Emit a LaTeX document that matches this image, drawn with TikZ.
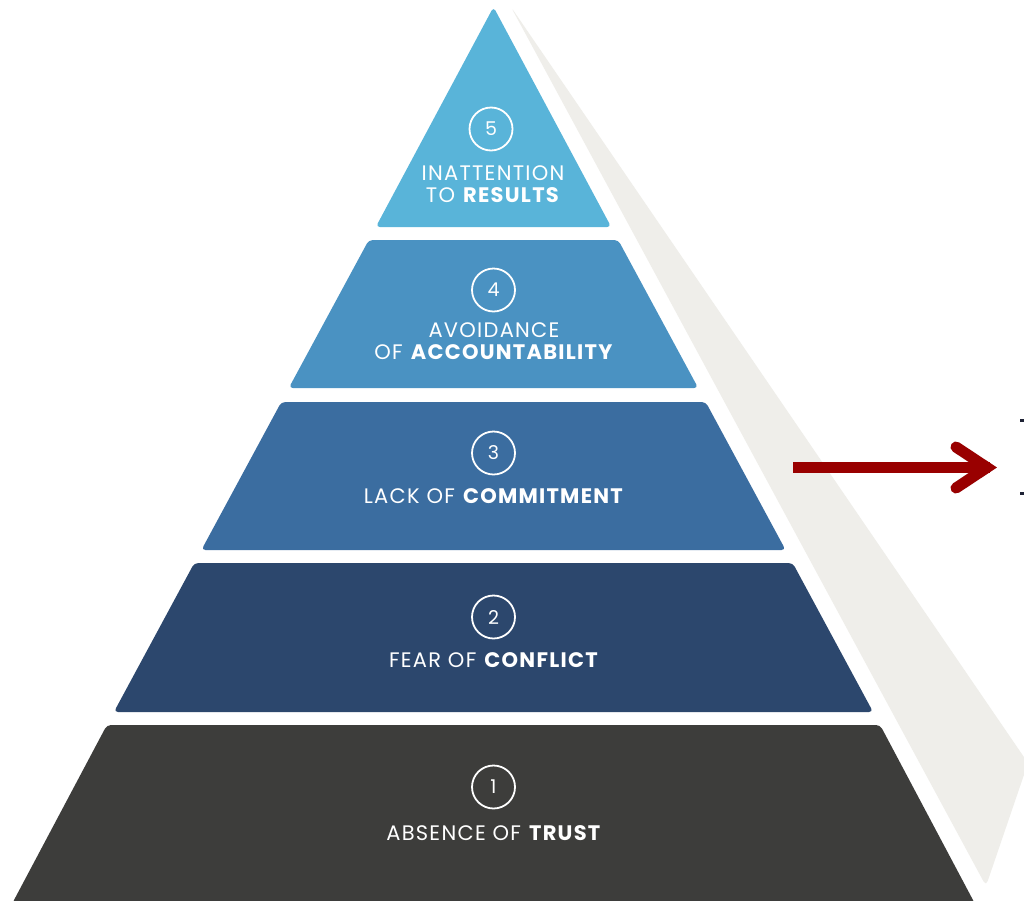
\documentclass[tikz,border=0pt]{standalone}
\usepackage{fontspec}
\setmainfont{Poppins}
\newfontfamily\labelfont{Poppins}[LetterSpace=6]
\definecolor{tfive}{HTML}{59B4D9}
\definecolor{tfour}{HTML}{4A92C2}
\definecolor{tthree}{HTML}{3B6DA0}
\definecolor{ttwo}{HTML}{2C476D}
\definecolor{tone}{HTML}{3D3D3B}
\definecolor{sidegray}{HTML}{EFEEEA}
\definecolor{arrowred}{HTML}{990000}
\definecolor{dotdark}{HTML}{1E2235}
\begin{document}
\begin{tikzpicture}[x=1pt,y=-1pt,
  tier/.style={rounded corners=4pt},
  numcirc/.style={circle, draw=white, line width=1.8pt, minimum size=43pt, inner sep=0pt, text=white, font=\fontsize{19}{19}\selectfont},
  tiertext/.style={text=white, align=center, inner sep=0pt, font=\labelfont\fontsize{21}{22}\selectfont},
  arrowline/.style={draw=arrowred, line width=11pt}
]
\useasboundingbox (0,0) rectangle (1024,900);
\fill[white] (0,0) rectangle (1024,900);
% side shadow
\fill[sidegray, rounded corners=5pt] (511,7) -- (1028,763) -- (986,886) -- cycle;
% tiers
\fill[tfive, tier] (493.5,7) -- (611.2,227) -- (375.8,227) -- cycle;
\fill[tfour, tier] (368.8,240) -- (618.2,240) -- (698.2,388) -- (288.8,388) -- cycle;
\fill[tthree, tier] (281.3,402) -- (705.7,402) -- (785.6,550) -- (201.4,550) -- cycle;
\fill[ttwo, tier] (194.3,563) -- (792.7,563) -- (873.1,712) -- (113.9,712) -- cycle;
\fill[tone, tier] (106.9,725) -- (880.1,725) -- (975.1,904) -- (11.9,904) -- cycle;
% numbers
\node[numcirc] (n5) at (491,129) {5};
\node[numcirc] (n4) at (493.5,290) {4};
\node[numcirc] (n3) at (493.5,453) {3};
\node[numcirc] (n2) at (493.5,617) {2};
\node[numcirc] (n1) at (493.5,787) {1};
% labels
\node[tiertext] (l5) at (493,184) {INATTENTION\\TO \textbf{RESULTS}};
\node[tiertext] (l4) at (494,341) {AVOIDANCE\\OF \textbf{ACCOUNTABILITY}};
\node[tiertext] (l3) at (494,496) {LACK OF \textbf{COMMITMENT}};
\node[tiertext] (l2) at (494,660) {FEAR OF \textbf{CONFLICT}};
\node[tiertext] (l1) at (494,833) {ABSENCE OF \textbf{TRUST}};
% arrow
\coordinate (as) at (793,467.5);
\coordinate (ae) at (990,467.5);
\coordinate (at) at (987,467.5);
\coordinate (au) at (956,447);
\coordinate (ad) at (956,488);
\begin{scope}[shift={(2,3)}, opacity=0.18]
  \draw[line width=11pt, draw=black!60] (as) -- (ae);
  \draw[line width=11pt, draw=black!60, line cap=round, line join=miter] (au) -- (at) -- (ad);
\end{scope}
\draw[arrowline] (as) -- (ae);
\draw[arrowline, line cap=round, line join=miter] (au) -- (at) -- (ad);
% partial bullets at right edge
\fill[dotdark] (1020,418.5) rectangle (1024,421.5);
\fill[dotdark] (1020,491.5) rectangle (1024,494.5);
\end{tikzpicture}
\end{document}
